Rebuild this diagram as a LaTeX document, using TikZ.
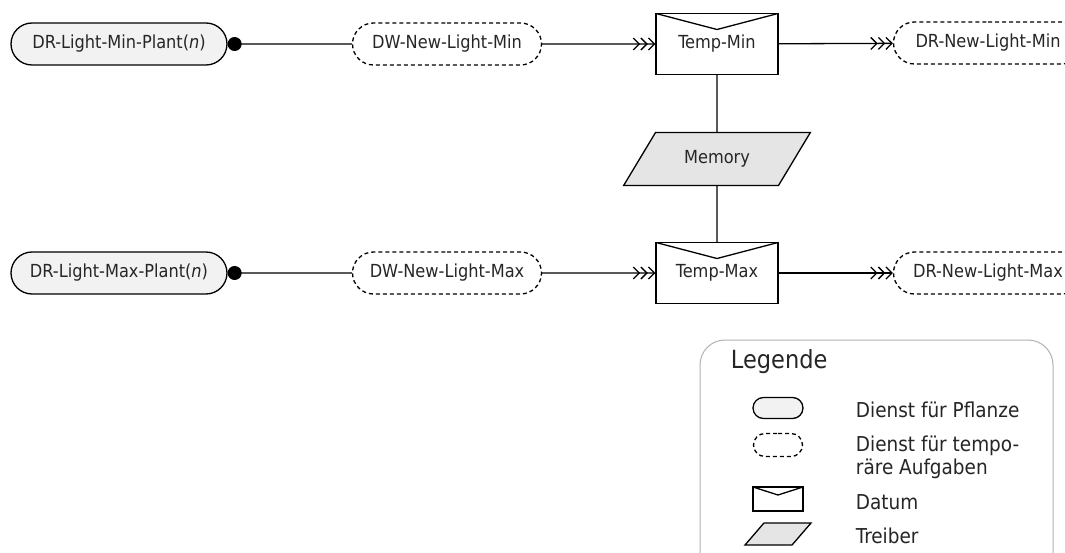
\documentclass[tikz,border=0pt]{standalone}
\usepackage{fontspec}
\setmainfont{DejaVu Sans Condensed}
\usetikzlibrary{arrows.meta,shapes.misc,shapes.geometric}

\begin{document}
\begin{tikzpicture}[x=1pt, y=-1pt, line width=1.3pt, text=black!85,
        font=\fontsize{18}{22}\selectfont,
        plant/.style={draw, rounded rectangle, fill=black!5, minimum width=216pt, minimum height=42pt, inner sep=0pt},
        temp/.style={draw, dashed, dash pattern=on 4pt off 3pt, rounded rectangle, fill=white, minimum width=189pt, minimum height=42pt, inner sep=0pt},
        datum/.style={draw, rectangle, fill=white, inner sep=0pt, path picture={\draw (path picture bounding box.north west) -- ([yshift=-#1]path picture bounding box.north) -- (path picture bounding box.north east);}},
        datum/.default=16pt,
        treiber/.style={draw, trapezium, trapezium left angle=#1, trapezium right angle=180-#1, trapezium stretches=true, fill=black!10, inner sep=1pt},
        datenfluss/.style={-{Straight Barb[length=6pt,width=12pt,sep=0pt]Straight Barb[length=6pt,width=12pt,sep=0pt]Straight Barb[length=6pt,width=12pt]}},
        anschluss/.style={{Circle[length=14pt]}-},
        legtext/.style={anchor=west, font=\fontsize{20.5}{23}\selectfont, align=left}]
        \path[use as bounding box, fill=white] (0,0) rectangle (1065,553);
        \node[plant] (plantmin) at (119,44) {DR-Light-Min-Plant(\textit{n})};
        \node[temp] (newmin) at (447,44) {DW-New-Light-Min};
        \node[datum, minimum width=122pt, minimum height=61pt] (tmin) at (717,44) {Temp-Min};
        \node[temp] (drmin) at (988,43) {DR-New-Light-Min};
        \node[treiber=47, minimum width=187pt, minimum height=53pt] (mem) at (717,159) {Memory};
        \node[plant] (plantmax) at (119,273) {DR-Light-Max-Plant(\textit{n})};
        \node[temp] (newmax) at (447,273) {DW-New-Light-Max};
        \node[datum, minimum width=122pt, minimum height=61pt] (tmax) at (717,273) {Temp-Max};
        \node[temp] (drmax) at (988,273) {DR-New-Light-Max};
        \draw[anschluss] (plantmin) -- (newmin);
        \draw[datenfluss] (newmin) -- (tmin);
        \draw[datenfluss] (tmin) -- (drmin);
        \draw[anschluss] (plantmax) -- (newmax);
        \draw[datenfluss] (newmax) -- (tmax);
        \draw[datenfluss] (tmax) -- (drmax);
        \draw (tmin) -- (mem) -- (tmax);
        \draw[gray!60, line width=1pt, rounded corners=25pt] (700,340) rectangle (1053,600);
        \node[anchor=west, font=\fontsize{25}{28}\selectfont] (legtitle) at (727,362) {Legende};
        \node[plant, minimum width=50pt, minimum height=21pt] (lplant) at (778,408) {};
        \node[temp, minimum width=49pt, minimum height=23pt] (ltemp) at (778,445) {};
        \node[datum=8pt, minimum width=50pt, minimum height=24pt] (ldatum) at (778,499) {};
        \node[treiber=56, minimum width=66pt, minimum height=22pt] (ltreiber) at (778,534) {};
        \node[legtext] (lplanttext) at (852,410) {Dienst für Pflanze};
        \node[legtext] (ltemptext) at (852,457) {Dienst für tempo-\\räre Aufgaben};
        \node[legtext] (ldatumtext) at (852,502) {Datum};
        \node[legtext] (ltreibertext) at (852,536) {Treiber};
    \end{tikzpicture}
\end{document}
